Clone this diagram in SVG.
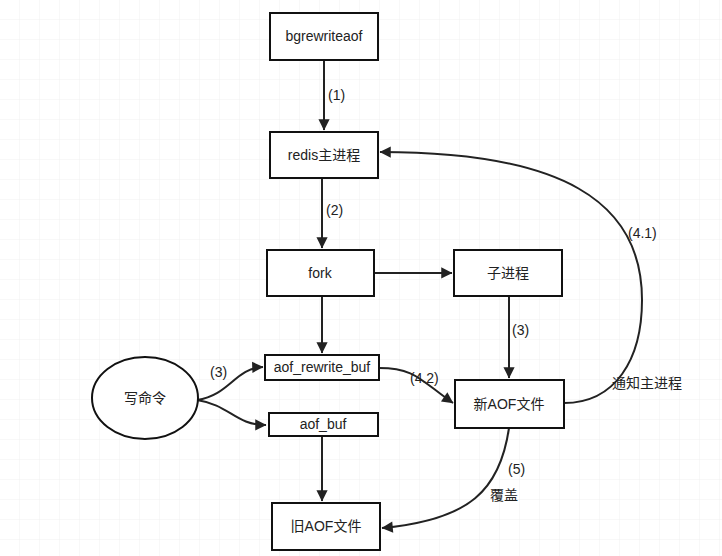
<svg xmlns="http://www.w3.org/2000/svg" width="722" height="556" viewBox="0 0 722 556">
<style>
text{font-family:"Liberation Sans","Noto Sans CJK SC",sans-serif;font-size:14px;fill:#222}
.n rect,.n ellipse{fill:#fff;stroke:#111;stroke-width:2}
.c path{fill:none;stroke:#222;stroke-width:2;marker-end:url(#a)}
</style>
<defs>
<marker id="a" viewBox="0 0 10 10" refX="9" refY="5" markerWidth="7" markerHeight="7" orient="auto" markerUnits="userSpaceOnUse" style="overflow:visible"><path d="M0,0 L10,5 L0,10 z" fill="#222" transform="scale(1.6) translate(-4,-1.9)"/></marker>
<pattern id="g" width="20" height="20" patternUnits="userSpaceOnUse"><path d="M20 0V20H0" fill="none" stroke="#f0f0f0" stroke-width="1"/></pattern>
</defs>
<rect width="722" height="556" fill="#fff"/>
<rect width="722" height="556" fill="url(#g)"/>
<g class="c">
<path d="M324 60V130"/>
<path d="M322 178V248"/>
<path d="M374 273H452"/>
<path d="M322 296V353"/>
<path d="M509 296V378"/>
<path d="M197 400C230 395 235 368 263 367"/>
<path d="M197 400C230 405 235 425 266 425"/>
<path d="M379 368C415 368 420 380 453 403"/>
<path d="M564 403C615 403 642 360 642 300C642 200 560 152 380 152"/>
<path d="M509 428C500 490 470 520 382 528"/>
<path d="M322 436V501"/>
</g>
<g id="bgrewriteaof" class="n"><rect x="270" y="13" width="108" height="47"/><text x="324" y="41" text-anchor="middle">bgrewriteaof</text></g>
<g id="redis" class="n"><rect x="270" y="132" width="108" height="46"/><text x="324" y="160" text-anchor="middle">redis主进程</text></g>
<g id="fork" class="n"><rect x="267" y="250" width="107" height="46"/><text x="320" y="278" text-anchor="middle">fork</text></g>
<g id="child" class="n"><rect x="454" y="250" width="108" height="46"/><text x="508" y="278" text-anchor="middle">子进程</text></g>
<g id="rewritebuf" class="n"><rect x="265" y="355" width="114" height="25"/><text x="322" y="372" text-anchor="middle">aof_rewrite_buf</text></g>
<g id="aofbuf" class="n"><rect x="269" y="413" width="109" height="23"/><text x="323" y="429" text-anchor="middle">aof_buf</text></g>
<g id="write" class="n"><ellipse cx="145" cy="398" rx="53" ry="41"/><text x="145" y="403" text-anchor="middle">写命令</text></g>
<g id="newaof" class="n"><rect x="455" y="380" width="109" height="48"/><text x="509" y="409" text-anchor="middle">新AOF文件</text></g>
<g id="oldaof" class="n"><rect x="272" y="503" width="108" height="47"/><text x="326" y="531" text-anchor="middle">旧AOF文件</text></g>
<g style="font-size:15px">
<text x="328" y="100">(1)</text>
<text x="326" y="215">(2)</text>
<text x="512" y="335">(3)</text>
<text x="210" y="377">(3)</text>
<text x="410" y="383">(4.2)</text>
<text x="628" y="238">(4.1)</text>
<text x="612" y="388">通知主进程</text>
<text x="508" y="474">(5)</text>
<text x="490" y="500">覆盖</text>
</g>
</svg>
